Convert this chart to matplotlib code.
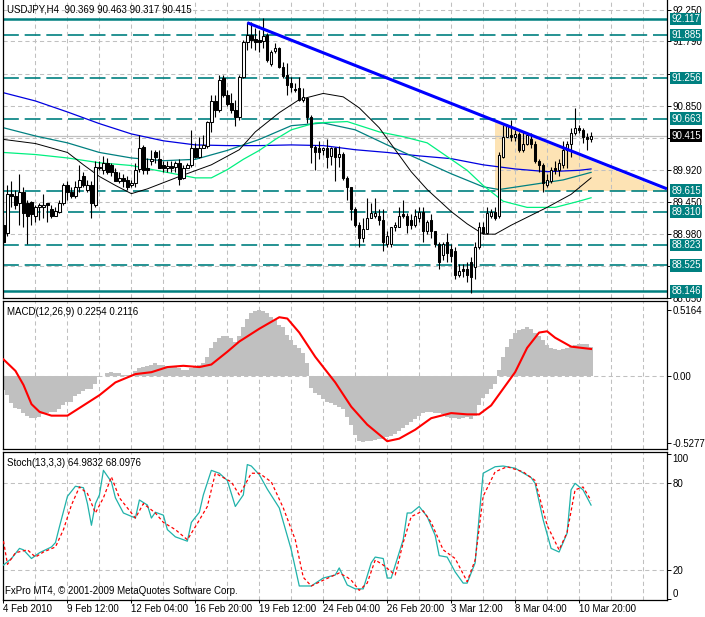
import matplotlib
matplotlib.use("Agg")
import numpy as np
import matplotlib.pyplot as plt
import matplotlib.transforms as mtransforms
from matplotlib.patches import Polygon

plt.rcParams["font.family"] = ["Liberation Sans", "DejaVu Sans"]
plt.rcParams["font.size"] = 7

# ---- USDJPY H4 candles (bar index 0 = 4 Feb 2010) ----
opens = [89.12, 89.00, 89.57, 89.54, 89.44, 89.60, 89.44, 89.45, 89.25, 89.37,
         89.37, 89.43, 89.35, 89.25, 89.31, 89.43, 89.69, 89.60, 89.53, 89.66,
         89.82, 89.63, 89.70, 89.41, 89.95, 89.92, 90.02, 89.99, 89.89, 89.75,
         89.80, 89.77, 89.70, 89.73, 89.93, 90.25, 89.95, 90.04, 90.17, 90.07,
         89.99, 89.95, 89.98, 89.96, 90.01, 89.80, 89.95, 89.99, 90.24, 90.11,
         90.24, 90.27, 90.62, 90.92, 90.79, 91.26, 91.01, 90.89, 90.79, 90.68,
         91.27, 91.78, 91.88, 91.82, 91.81, 91.80, 91.88, 91.46, 91.65, 91.69,
         91.42, 91.30, 91.18, 91.10, 91.11, 90.94, 90.97, 90.69, 90.25, 90.23,
         90.21, 90.24, 90.12, 90.23, 90.11, 90.15, 89.80, 89.66, 89.34, 89.12,
         88.93, 89.06, 89.22, 89.24, 89.25, 89.18, 88.83, 88.83, 89.08, 89.08,
         89.27, 89.24, 89.19, 89.12, 89.22, 89.31, 89.02, 89.19, 89.02, 88.83,
         88.68, 88.87, 88.76, 88.73, 88.39, 88.47, 88.47, 88.58, 88.50, 88.79,
         89.09, 89.00, 89.24, 89.31, 89.24, 90.11, 90.40, 90.43, 90.39, 90.44,
         90.21, 90.30, 90.36, 90.30, 90.04, 89.99, 89.70, 89.75, 89.95, 89.92,
         89.99, 90.20, 90.30, 90.46, 90.53, 90.50, 90.40, 90.369]
highs = [89.24, 89.70, 89.75, 89.63, 89.85, 89.67, 89.48, 89.47, 89.41, 89.44,
         89.57, 89.44, 89.41, 89.38, 89.48, 89.73, 89.75, 89.67, 89.75, 89.99,
         89.89, 89.77, 89.75, 90.04, 90.05, 90.12, 90.09, 90.02, 89.95, 89.89,
         89.85, 89.82, 89.77, 90.02, 90.43, 90.28, 90.09, 90.21, 90.21, 90.21,
         90.04, 90.04, 90.05, 90.04, 90.07, 89.99, 90.02, 90.50, 90.31, 90.39,
         90.43, 90.63, 91.01, 91.01, 91.30, 91.30, 91.08, 91.04, 90.94, 91.30,
         91.81, 92.07, 92.07, 91.98, 91.95, 92.13, 91.91, 91.66, 91.77, 91.71,
         91.49, 91.48, 91.27, 91.18, 91.27, 91.11, 90.97, 90.72, 90.28, 90.33,
         90.25, 90.36, 90.25, 90.25, 90.27, 90.17, 89.82, 89.67, 89.37, 89.16,
         89.22, 89.50, 89.44, 89.50, 89.34, 89.34, 89.02, 89.09, 89.16, 89.37,
         89.48, 89.29, 89.27, 89.34, 89.37, 89.37, 89.19, 89.27, 89.02, 88.86,
         88.86, 89.00, 88.83, 88.80, 88.54, 88.55, 88.58, 88.64, 88.86, 89.15,
         89.16, 89.37, 89.34, 89.38, 90.17, 90.57, 90.59, 90.65, 90.50, 90.47,
         90.47, 90.47, 90.46, 90.33, 90.07, 90.02, 89.85, 89.96, 90.04, 90.07,
         90.33, 90.33, 90.53, 90.82, 90.57, 90.53, 90.46, 90.463]
lows = [88.84, 88.95, 89.37, 89.34, 89.12, 89.09, 88.83, 89.12, 89.16, 89.18,
        89.22, 89.16, 89.21, 89.24, 89.29, 89.41, 89.48, 89.50, 89.51, 89.60,
        89.66, 89.60, 89.22, 89.38, 89.92, 89.85, 89.85, 89.82, 89.75, 89.72,
        89.66, 89.63, 89.66, 89.66, 89.89, 89.85, 89.85, 89.99, 90.02, 89.95,
        89.89, 89.89, 89.89, 89.89, 89.70, 89.79, 89.95, 89.96, 90.09, 90.09,
        90.24, 90.24, 90.47, 90.68, 90.76, 90.98, 90.84, 90.75, 90.55, 90.65,
        91.26, 91.66, 91.69, 91.66, 91.64, 91.69, 91.49, 91.43, 91.62, 91.40,
        91.26, 91.01, 91.05, 91.05, 90.92, 90.91, 90.60, 90.02, 89.92, 90.07,
        90.14, 89.95, 89.99, 89.75, 89.96, 89.77, 89.48, 89.19, 89.08, 88.79,
        88.87, 89.06, 89.21, 89.22, 89.12, 88.73, 88.79, 88.80, 89.02, 89.08,
        89.22, 89.00, 89.05, 89.09, 89.16, 88.87, 88.98, 88.93, 88.80, 88.47,
        88.61, 88.58, 88.58, 88.32, 88.35, 88.35, 88.29, 88.13, 88.32, 88.77,
        88.98, 88.98, 89.22, 89.19, 89.22, 90.09, 90.39, 90.33, 90.33, 90.18,
        90.17, 90.28, 90.24, 90.02, 89.89, 89.60, 89.67, 89.73, 89.85, 89.82,
        89.95, 89.95, 90.11, 90.43, 90.46, 90.31, 90.21, 90.317]
closes = [88.86, 89.57, 89.53, 89.41, 89.60, 89.29, 89.24, 89.27, 89.37, 89.40,
          89.40, 89.40, 89.24, 89.32, 89.43, 89.69, 89.60, 89.53, 89.67, 89.77,
          89.70, 89.70, 89.43, 89.96, 89.96, 90.02, 89.89, 89.89, 89.75, 89.80,
          89.75, 89.67, 89.73, 89.92, 90.24, 89.92, 89.92, 90.07, 90.11, 89.95,
          89.95, 89.98, 89.95, 90.01, 89.79, 89.95, 89.99, 90.24, 90.11, 90.24,
          90.28, 90.62, 90.92, 90.79, 91.23, 91.01, 90.88, 90.79, 90.68, 91.27,
          91.78, 91.88, 91.81, 91.78, 91.78, 91.87, 91.52, 91.64, 91.69, 91.42,
          91.29, 91.16, 91.13, 91.08, 90.94, 90.98, 90.69, 90.25, 90.18, 90.18,
          90.24, 90.11, 90.23, 90.11, 90.15, 89.80, 89.66, 89.34, 89.12, 88.93,
          89.06, 89.22, 89.29, 89.29, 89.18, 88.86, 88.95, 89.08, 89.11, 89.25,
          89.24, 89.12, 89.11, 89.25, 89.31, 89.02, 89.16, 89.02, 88.83, 88.57,
          88.83, 88.71, 88.66, 88.39, 88.45, 88.44, 88.39, 88.36, 88.79, 89.09,
          89.00, 89.29, 89.31, 89.22, 90.14, 90.40, 90.57, 90.39, 90.44, 90.21,
          90.30, 90.43, 90.30, 90.04, 89.99, 89.73, 89.77, 89.92, 89.91, 90.02,
          90.21, 90.30, 90.46, 90.53, 90.49, 90.40, 90.37, 90.415]

# moving averages (bar index, price)
blue_idx = [0, 8, 16, 24, 32, 40, 48, 56, 64, 72, 80, 88, 96, 104, 112, 120, 128, 136, 144, 147]
blue_val = [91.04, 90.92, 90.76, 90.59, 90.44, 90.34, 90.28, 90.27, 90.27, 90.28,
            90.27, 90.21, 90.17, 90.12, 90.08, 89.99, 89.93, 89.89, 89.91, 89.93]
black_idx = [0, 8, 16, 20, 24, 28, 32, 36, 44, 52, 59, 63, 69, 74, 80, 85, 89, 94,
             98, 102, 106, 112, 116, 120, 123, 127, 136, 142, 147]
black_val = [90.36, 90.30, 90.17, 89.99, 89.82, 89.69, 89.57, 89.64, 89.82, 89.99,
             90.21, 90.47, 90.75, 90.94, 91.03, 90.98, 90.82, 90.53, 90.21, 89.89,
             89.63, 89.31, 89.13, 88.98, 88.98, 89.11, 89.37, 89.56, 89.80]
teal_idx = [0, 8, 16, 24, 32, 40, 48, 56, 64, 72, 80, 88, 96, 104, 112, 120, 124, 132, 140, 147]
teal_val = [90.53, 90.41, 90.31, 90.17, 90.09, 90.05, 90.07, 90.20, 90.36, 90.56,
            90.60, 90.50, 90.28, 90.07, 89.86, 89.67, 89.63, 89.70, 89.77, 89.88]
green_idx = [0, 8, 16, 24, 32, 40, 48, 52, 56, 60, 64, 68, 72, 78, 86, 94, 100,
             106, 112, 116, 120, 125, 131, 138, 144, 147]
green_val = [90.17, 90.14, 90.09, 90.02, 89.98, 89.89, 89.80, 89.80, 89.92, 90.07,
             90.20, 90.36, 90.50, 90.60, 90.62, 90.47, 90.40, 90.31, 90.07, 89.91,
             89.69, 89.46, 89.37, 89.37, 89.46, 89.51]

# objects
trend_idx = [61, 166]
trend_val = [92.06, 89.64]
tri_idx = [123, 123, 166]
tri_val = [90.62, 89.615, 89.615]
levels_solid = [92.117, 88.146]
levels_dashed = [91.885, 91.256, 90.663, 89.615, 89.310, 88.823, 88.525]
last_price = 90.415
price_ticks = [92.25, 91.79, 91.32, 90.85, 90.38, 89.92, 89.45, 88.98, 88.51, 88.05]
# these scale labels sit behind the level boxes in the terminal
hidden_ticks = [91.32, 90.38, 88.51]

# MACD(12,26,9)
macd_hist = [-0.11, -0.15, -0.21, -0.25, -0.26, -0.29, -0.31, -0.33, -0.33, -0.32,
             -0.30, -0.29, -0.28, -0.28, -0.26, -0.23, -0.20, -0.20, -0.16, -0.14,
             -0.12, -0.10, -0.10, -0.06, -0.01, 0.00, 0.02, 0.03, 0.02, 0.02,
             0.01, 0.01, 0.01, 0.04, 0.06, 0.07, 0.08, 0.09, 0.10, 0.09,
             0.09, 0.08, 0.08, 0.07, 0.06, 0.05, 0.05, 0.06, 0.07, 0.09,
             0.10, 0.15, 0.22, 0.27, 0.30, 0.31, 0.31, 0.30, 0.27, 0.31,
             0.38, 0.45, 0.49, 0.51, 0.52, 0.51, 0.49, 0.46, 0.44, 0.40,
             0.38, 0.32, 0.28, 0.24, 0.22, 0.18, 0.10, -0.09, -0.13, -0.15,
             -0.18, -0.20, -0.21, -0.23, -0.24, -0.26, -0.32, -0.38, -0.46, -0.51,
             -0.52, -0.51, -0.51, -0.50, -0.49, -0.49, -0.48, -0.47, -0.45, -0.43,
             -0.41, -0.38, -0.36, -0.34, -0.31, -0.29, -0.28, -0.28, -0.29, -0.29,
             -0.30, -0.32, -0.33, -0.33, -0.34, -0.33, -0.32, -0.34, -0.31, -0.23,
             -0.17, -0.14, -0.10, -0.06, 0.05, 0.15, 0.23, 0.29, 0.34, 0.36,
             0.37, 0.38, 0.37, 0.34, 0.31, 0.28, 0.24, 0.22, 0.21, 0.20,
             0.21, 0.22, 0.23, 0.24, 0.25, 0.25, 0.25, 0.2254]
sig_idx = [0, 3, 5, 7, 9, 12, 16, 18, 24, 28, 33, 37, 41, 45, 49, 52, 56, 59, 64, 69,
           71, 74, 78, 83, 87, 91, 96, 99, 103, 107, 112, 116, 119, 122, 125, 128,
           131, 134, 136, 138, 142, 147]
sig_val = [0.13, 0.04, -0.07, -0.22, -0.28, -0.31, -0.31, -0.27, -0.15, -0.05,
           0.015, 0.03, 0.07, 0.08, 0.07, 0.09, 0.19, 0.27, 0.37, 0.46,
           0.45, 0.34, 0.15, -0.05, -0.24, -0.38, -0.51, -0.49, -0.42, -0.33,
           -0.29, -0.30, -0.30, -0.23, -0.10, 0.03, 0.22, 0.34, 0.35, 0.30,
           0.23, 0.2116]

# Stochastic(13,3,3)
st_main_idx = [0, 2, 4, 5, 7, 9, 12, 13, 14, 16, 18, 20, 21, 22, 23, 24, 25, 27, 28, 30,
               33, 34, 36, 37, 38, 40, 41, 43, 46, 47, 49, 50, 52, 54, 56, 58, 60, 61,
               62, 64, 66, 69, 72, 74, 77, 80, 83, 84, 86, 88, 90, 92, 93, 95, 96, 97,
               100, 101, 102, 104, 106, 108, 109, 111, 113, 115, 116, 118, 119, 120,
               123, 125, 128, 132, 133, 135, 137, 139, 141, 142, 143, 145, 147]
st_main_val = [23.5, 28, 35, 34, 28, 32, 36, 39, 50, 71, 78, 77, 66, 51, 66, 72, 89, 81, 70, 59.5,
               56, 68.5, 65, 56, 60, 58, 48, 43, 40, 53, 60, 72, 89, 87, 82, 64, 72, 93,
               92, 86, 76, 63, 34, 9, 9, 14.5, 16.6, 21.5, 9.7, 7, 7, 25, 29, 28, 14.5, 14.5,
               41, 59.5, 59.5, 64, 57, 44, 30, 29, 18.7, 11, 11, 25, 57, 87,
               91.5, 92, 90.5, 84, 80, 55, 35, 32.5, 45.5, 75.5, 80, 75.5, 64.98]
st_sig_idx = [0, 1, 3, 6, 8, 10, 13, 15, 17, 19, 21, 23, 25, 27, 29, 33, 35, 38, 40, 43,
              46, 48, 51, 53, 57, 59, 62, 64, 67, 70, 73, 75, 77, 80, 84, 86, 87, 89,
              91, 93, 95, 98, 100, 102, 105, 107, 110, 113, 116, 118, 120, 123, 126,
              130, 133, 136, 139, 141, 143, 145, 147]
st_sig_val = [40, 24, 32, 34, 29, 32.5, 36, 48, 65, 77.5, 73, 59.5, 70, 84.5, 70, 56, 66, 59.5, 53, 48,
              41, 50, 64, 87, 81, 72, 87, 87, 81, 63, 41, 15, 9, 13, 18, 15, 13, 6,
              11, 27, 23.5, 16.6, 39, 57, 61, 53, 34, 28, 12, 27, 71, 88, 91.5,
              88, 82, 51, 34, 46, 75.5, 77.5, 68.1]

time_labels = ["4 Feb 2010", "9 Feb 12:00", "12 Feb 04:00", "16 Feb 20:00", "19 Feb 12:00",
               "24 Feb 04:00", "26 Feb 20:00", "3 Mar 12:00", "8 Mar 04:00", "10 Mar 20:00"]
time_label_idx = [0, 16, 32, 48, 64, 80, 96, 112, 128, 144]

TEAL = "#008080"
GRID = "#C0C0C0"
W, H = 705, 617


def px_axes(fig, top, bottom, left=2.5, right=667):
    return fig.add_axes([left / W, 1 - bottom / H, (right - left) / W, (bottom - top) / H])


def style_panel(ax):
    ax.set_xlim(-0.25, 166)
    ax.set_facecolor("white")
    for s in ax.spines.values():
        s.set_color("black")
        s.set_linewidth(0.9)
    ax.yaxis.tick_right()
    ax.tick_params(axis="y", direction="out", length=3, pad=1, width=0.7, labelsize=7)
    ax.tick_params(axis="x", bottom=False, labelbottom=False)
    for i in range(8, 166, 8):
        ax.axvline(i, color=GRID, lw=0.75, ls=(0, (4, 3)), zorder=1)


fig = plt.figure(figsize=(W / 100, H / 100), dpi=100)

# ---------------- main price panel ----------------
ax = px_axes(fig, 0, 298)
style_panel(ax)
ax.spines["top"].set_visible(False)
ax.set_ylim(88.060, 92.391)
ax.set_yticks(price_ticks)
ax.set_yticklabels(["" if p in hidden_ticks else f"{p:.3f}" for p in price_ticks])
for p in price_ticks:
    ax.axhline(p, color=GRID, lw=0.75, ls=(0, (4, 3)), zorder=1)

ax.add_patch(Polygon(list(zip(tri_idx, tri_val)), closed=True, fc="#FDE3B4", ec="none", zorder=0.8))

for lv in levels_solid:
    ax.axhline(lv, color=TEAL, lw=1.8, zorder=2)
for lv in levels_dashed:
    ax.axhline(lv, color=TEAL, lw=1.2, ls=(0, (9.5, 3.5)), zorder=2)
ax.axhline(last_price, color=GRID, lw=0.9, zorder=1.5)

ax.plot(blue_idx, blue_val, color="#0000E0", lw=0.9, zorder=2.5)
ax.plot(teal_idx, teal_val, color="#008080", lw=0.9, zorder=2.5)
ax.plot(green_idx, green_val, color="#00F080", lw=0.9, zorder=2.5)
ax.plot(black_idx, black_val, color="black", lw=0.7, zorder=2.5)

o = np.array(opens)
c = np.array(closes)
idx = np.arange(len(c))
up = c >= o
body_lo = np.minimum(o, c)
body_h = np.maximum(np.abs(c - o), 0.008)
ax.vlines(idx, lows, highs, color="black", lw=0.8, zorder=3)
ax.bar(idx, body_h, bottom=body_lo, width=0.6,
       color=["white" if u else "black" for u in up],
       edgecolor="black", linewidth=0.75, zorder=4)

ax.plot(trend_idx, trend_val, color="#0000FF", lw=2.2, zorder=5, solid_capstyle="butt")

tr = mtransforms.blended_transform_factory(ax.transAxes, ax.transData)
for lv in levels_solid + levels_dashed:
    ax.text(1.0063, lv, f"{lv:.3f}", transform=tr, color="white", va="center", ha="left",
            fontsize=7, zorder=10,
            bbox=dict(boxstyle="square,pad=0.12", fc=TEAL, ec="none"))
ax.text(1.0063, last_price, f"{last_price:.3f}", transform=tr, color="white", va="center",
        ha="left", fontsize=7, zorder=10,
        bbox=dict(boxstyle="square,pad=0.12", fc="black", ec="none"))

ax.text(5 / 665, 1 - 5 / 298, "USDJPY,H4  90.369 90.463 90.317 90.415",
        transform=ax.transAxes, va="top", ha="left", fontsize=7)

# ---------------- MACD panel ----------------
am = px_axes(fig, 301, 449)
style_panel(am)
am.set_ylim(-0.571, 0.587)
am.bar(idx, macd_hist, width=1.0, color="#C0C0C0", linewidth=0, zorder=2)
am.axhline(0, color=GRID, lw=0.75, ls=(0, (4, 3)), zorder=1)
am.plot(sig_idx, sig_val, color="#FF0000", lw=1.5, zorder=3)
am.set_yticks([0.5164, 0.0, -0.5277])
am.set_yticklabels(["0.5164", "0.00", "-0.5277"])
am.text(5 / 665, 1 - 6 / 148, "MACD(12,26,9) 0.2254 0.2116",
        transform=am.transAxes, va="top", ha="left", fontsize=7)

# ---------------- Stochastic panel ----------------
ast = px_axes(fig, 452, 600)
style_panel(ast)
ast.set_ylim(-0.7, 101.7)
for lv in (80, 20):
    ast.axhline(lv, color=GRID, lw=0.75, ls=(0, (4, 3)), zorder=1)
ast.plot(st_main_idx, st_main_val, color="#20B2AA", lw=0.9, zorder=3)
ast.plot(st_sig_idx, st_sig_val, color="#FF0000", lw=0.9, ls=(0, (2.5, 2)), zorder=3)
ast.set_yticks([100, 80, 20, 0])
ast.set_yticklabels(["100", "80", "20", "0"])
ylabs = ast.get_yticklabels()
ylabs[0].set_va("top")
ylabs[3].set_va("bottom")
ast.text(5 / 665, 1 - 6 / 148, "Stoch(13,3,3) 64.9832 68.0976",
         transform=ast.transAxes, va="top", ha="left", fontsize=7)
ast.text(3 / 665, 4 / 148, "FxPro MT4, \u00a9 2001-2009 MetaQuotes Software Corp.",
         transform=ast.transAxes, va="bottom", ha="left", fontsize=7)

ast.set_xticks(time_label_idx)
ast.set_xticklabels(time_labels)
ast.tick_params(axis="x", bottom=True, labelbottom=True, direction="out",
                length=2, pad=1, width=0.7, labelsize=7)
for lab in ast.get_xticklabels():
    lab.set_ha("left")

fig.savefig("out.png", dpi=100)
